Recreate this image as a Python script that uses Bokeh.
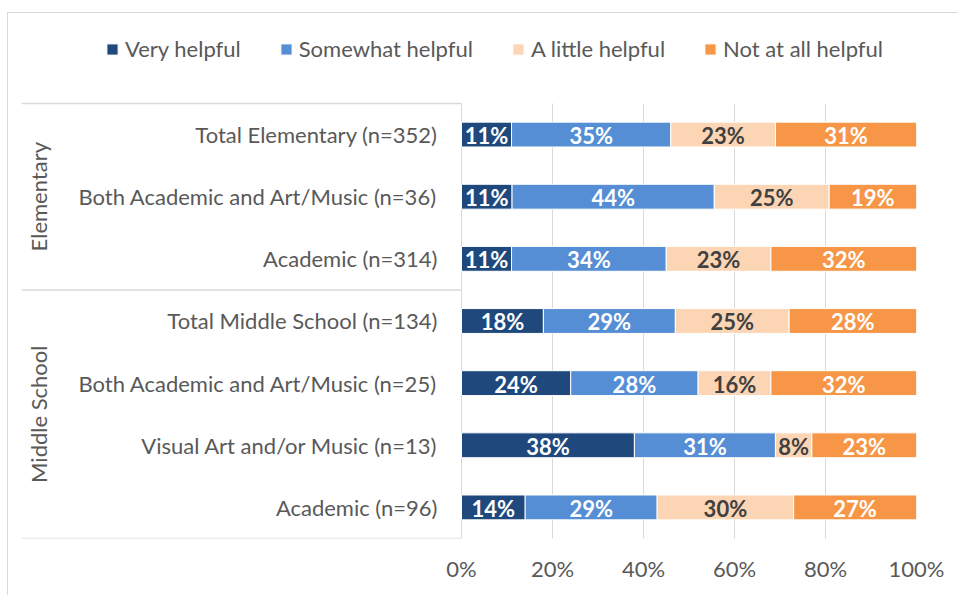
import math
from bokeh.plotting import figure
from bokeh.models import (Range1d, ColumnDataSource, Legend, LegendItem,
                          FixedTicker, NumeralTickFormatter)
from bokeh.core.properties import value
from bokeh.embed import file_html
from bokeh.resources import INLINE

# ---------------- data (rows listed top to bottom) ----------------
groups = ["Elementary", "Elementary", "Elementary",
          "Middle School", "Middle School", "Middle School", "Middle School"]
rows = ["Total Elementary (n=352)",
        "Both Academic and Art/Music (n=36)",
        "Academic (n=314)",
        "Total Middle School (n=134)",
        "Both Academic and Art/Music (n=25)",
        "Visual Art and/or Music (n=13)",
        "Academic (n=96)"]
very_helpful = [11, 11, 11, 18, 24, 38, 14]
somewhat_helpful = [35, 44, 34, 29, 28, 31, 29]
little_helpful = [23, 25, 23, 25, 16, 8, 30]
not_helpful = [31, 19, 32, 28, 32, 23, 27]
series_names = ["Very helpful", "Somewhat helpful", "A little helpful", "Not at all helpful"]
x_ticks = [0, 0.2, 0.4, 0.6, 0.8, 1.0]

# ---------------- styles ----------------
colors = ["#1F497D", "#558ED5", "#FCD5B5", "#F79646"]
label_colors = ["#FFFFFF", "#FFFFFF", "#404040", "#FFFFFF"]
FONT = "Lato"
TXT = "#595959"
LINE = "#D9D9D9"
X0 = -0.967          # left edge of the category-label area (in value units)
TOP_ROOM = 1.448     # room above the bars for the legend (in row units)

series = [very_helpful, somewhat_helpful, little_helpful, not_helpful]
n = len(rows)
ypos = [n - 0.5 - i for i in range(n)]   # row centres, first row on top

p = figure(width=951, height=583, x_range=Range1d(X0, 1.0),
           y_range=Range1d(0, n + TOP_ROOM),
           y_axis_location=None, toolbar_location=None, output_backend="svg",
           min_border_left=13, min_border_right=43, min_border_top=0,
           min_border_bottom=58)
p.styles = {"margin-top": "12px", "margin-left": "7px",
            "border-top": "1px solid #D9D9D9", "border-left": "1px solid #D9D9D9"}
p.outline_line_color = None
p.ygrid.visible = False

g = p.xgrid[0]
g.ticker = FixedTicker(ticks=x_ticks)
g.grid_line_color = LINE
g.grid_line_width = 1
g.bounds = (-0.01, 1.01)
try:
    g.cross_bounds = (0, n)
except AttributeError:
    g.visible = False
    p.segment(x0=x_ticks, x1=x_ticks, y0=[0] * len(x_ticks), y1=[n] * len(x_ticks),
              line_color=LINE, line_width=1)

ax = p.xaxis[0]
ax.ticker = FixedTicker(ticks=x_ticks)
ax.formatter = NumeralTickFormatter(format="0%")
ax.bounds = (0, 1)
ax.axis_line_color = None
ax.major_tick_line_color = None
ax.minor_tick_line_color = None
ax.major_label_text_font = FONT
ax.major_label_text_font_size = "22px"
ax.major_label_text_color = TXT
ax.major_label_standoff = 10

# stacked, normalised bars
totals = [sum(v) for v in zip(*series)]
left = [0.0] * n
renderers = []
for name, vals, col, lcol in zip(series_names, series, colors, label_colors):
    l = list(left)
    r = [a + v / t for a, v, t in zip(l, vals, totals)]
    src = ColumnDataSource(dict(y=ypos, left=l, right=r,
                                mid=[(a + b) / 2 for a, b in zip(l, r)],
                                lab=[f"{v}%" for v in vals]))
    rr = p.hbar(y="y", left="left", right="right", height=0.4, source=src,
                fill_color=col, line_color="white", line_width=1)
    renderers.append(rr)
    p.text(x="mid", y="y", text="lab", source=src, text_align="center",
           text_baseline="middle", text_font=value(FONT), text_font_style="bold",
           text_font_size="22px", text_color=lcol, y_offset=1)
    left = r

# row labels
rsrc = ColumnDataSource(dict(y=ypos, lab=rows, x=[0] * n))
p.text(x="x", y="y", text="lab", source=rsrc, x_offset=-24, text_align="right",
       text_baseline="middle", text_font=value(FONT), text_font_size="22px",
       text_color=TXT)

# group labels and separator lines
group_names = list(dict.fromkeys(groups))
bounds = []
gy = []
for gname in group_names:
    idx = [i for i, gg in enumerate(groups) if gg == gname]
    top = n - idx[0]
    bot = n - idx[-1] - 1
    bounds += [top, bot]
    gy.append((top + bot) / 2)
bounds = sorted(set(bounds))
gsrc = ColumnDataSource(dict(y=gy, x=[X0] * len(gy), lab=group_names))
p.text(x="x", y="y", text="lab", source=gsrc, x_offset=17, angle=math.pi / 2,
       text_align="center", text_baseline="middle", text_font=value(FONT),
       text_font_size="22px", text_color=TXT)
p.segment(x0=[X0] * len(bounds), x1=[0] * len(bounds), y0=bounds, y1=bounds,
          line_color=LINE, line_width=1.5)

legend = Legend(items=[LegendItem(label=s, renderers=[r]) for s, r in zip(series_names, renderers)],
                orientation="horizontal", location=(84, 476), padding=0, margin=0,
                spacing=38, glyph_width=14, glyph_height=14, label_standoff=6,
                label_text_font=FONT, label_text_font_size="22px", label_text_color=TXT,
                border_line_color=None, background_fill_alpha=0)
p.add_layout(legend, "center")

open("out.html", "w").write(file_html(p, INLINE))
